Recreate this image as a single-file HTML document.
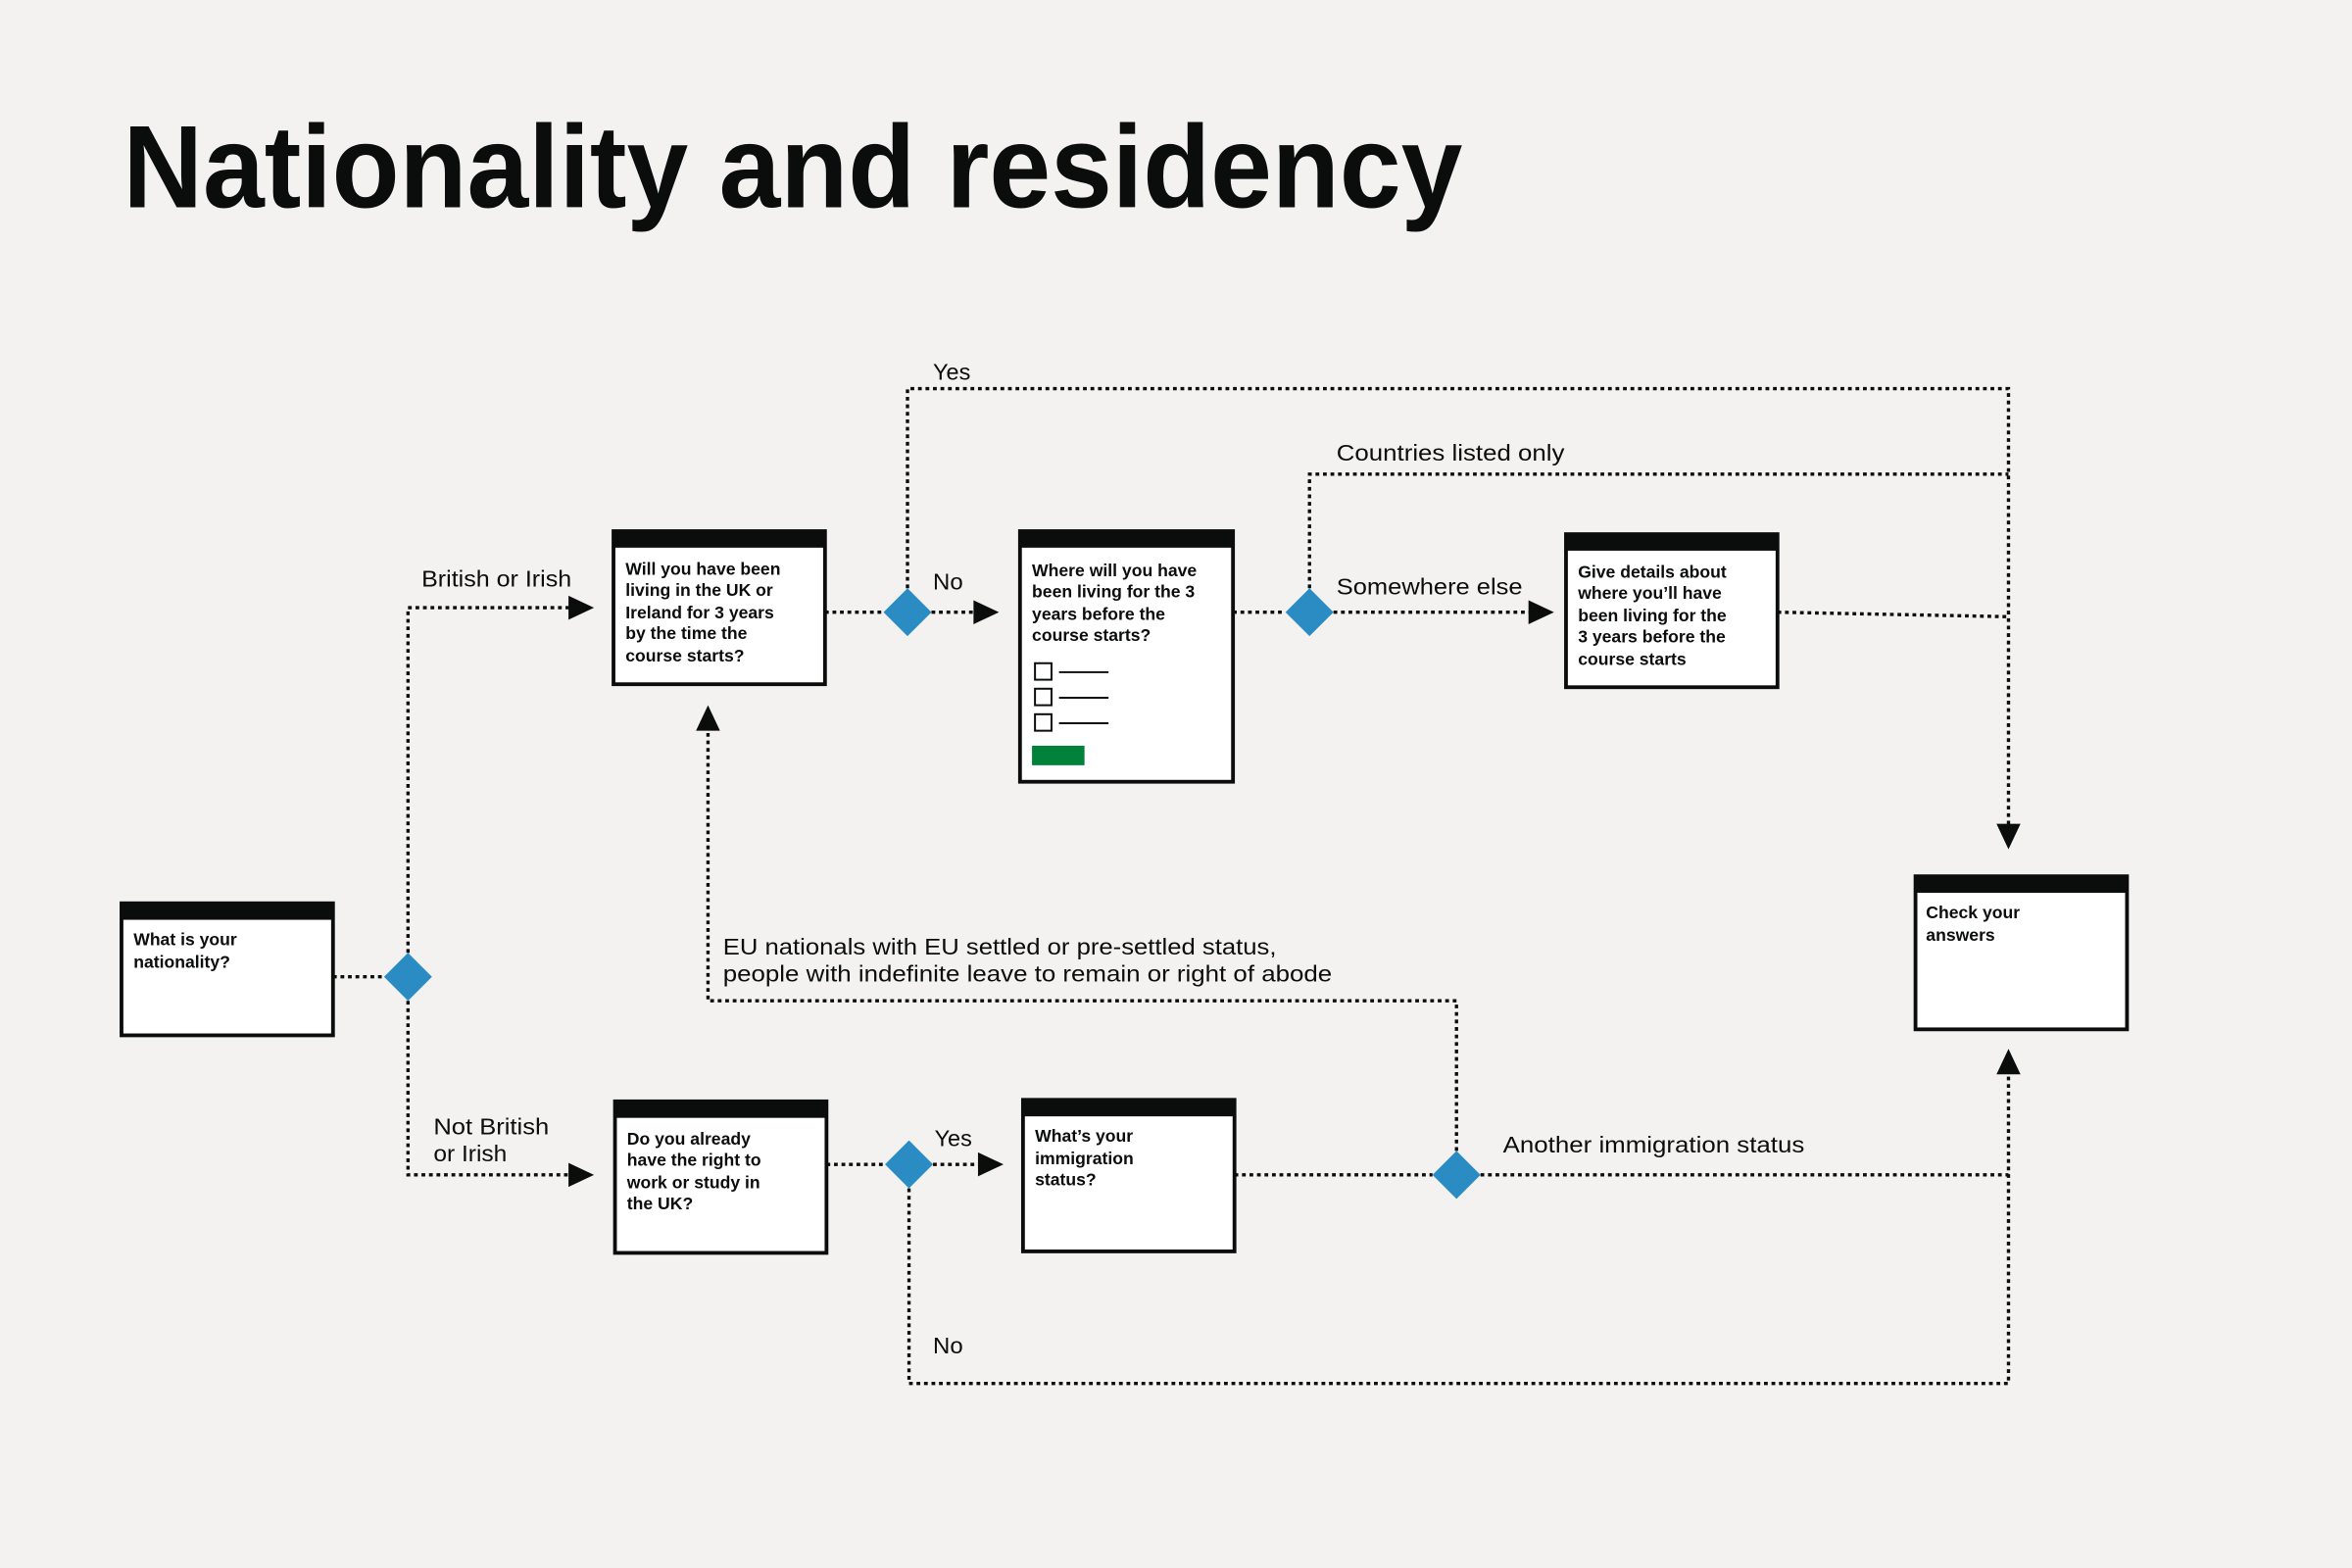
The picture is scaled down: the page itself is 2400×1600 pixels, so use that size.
<!DOCTYPE html>
<html><head><meta charset="utf-8"><style>
html,body{margin:0;padding:0;background:#f3f2f1;}
svg{display:block;}
text{font-family:"Liberation Sans",sans-serif;fill:#0b0c0c;}
.lbl{font-size:15px;}
.bx{font-size:11.5px;font-weight:bold;}
.d{fill:none;stroke:#0b0c0c;stroke-width:2.2;stroke-dasharray:2.5,2.5;}
.box{fill:#fff;stroke:#0b0c0c;stroke-width:2.5;}
.dia{fill:#2b8cc4;}
</style></head><body>
<svg width="2400" height="1600" viewBox="0 0 1568 1045" preserveAspectRatio="none" xmlns="http://www.w3.org/2000/svg">
<rect width="1568" height="1045" fill="#f3f2f1"/>
<text x="82" y="138" font-size="78" font-weight="bold" textLength="893" lengthAdjust="spacingAndGlyphs">Nationality and residency</text>

<path class="d" d="M222 651H256"/>
<path class="d" d="M272 635V405H385"/>
<path class="d" d="M272 667V783H385"/>
<path class="d" d="M550 408H589"/>
<path class="d" d="M621 408H652"/>
<path class="d" d="M605 392V259H1339V552"/>
<path class="d" d="M822 408H857"/>
<path class="d" d="M889 408H1022"/>
<path class="d" d="M873 392V316H1339"/>
<path class="d" d="M1185 408L1339 411"/>
<path class="d" d="M971 767V667H472V486"/>
<path class="d" d="M551 776H590"/>
<path class="d" d="M622 776H655"/>
<path class="d" d="M606 792V922H1339V716"/>
<path class="d" d="M823 783H955"/>
<path class="d" d="M987 783H1339"/>

<g fill="#0b0c0c">
<polygon points="396,405 379,397 379,413"/>
<polygon points="396,783 379,775 379,791"/>
<polygon points="666,408 649,400 649,416"/>
<polygon points="1036,408 1019,400 1019,416"/>
<polygon points="669,776 652,768 652,784"/>
<polygon points="1339,566 1331,549 1347,549"/>
<polygon points="1339,699 1331,716 1347,716"/>
<polygon points="472,470 464,487 480,487"/>
</g>

<g class="dia">
<polygon points="272,635 288,651 272,667 256,651"/>
<polygon points="605,392 621,408 605,424 589,408"/>
<polygon points="873,392 889,408 873,424 857,408"/>
<polygon points="606,760 622,776 606,792 590,776"/>
<polygon points="971,767 987,783 971,799 955,783"/>
</g>

<rect class="box" x="81" y="602" width="141" height="88"/><rect x="80" y="601" width="143" height="12" fill="#0b0c0c"/>
<rect class="box" x="409" y="354" width="141" height="102"/><rect x="408" y="353" width="143" height="12" fill="#0b0c0c"/>
<rect class="box" x="680" y="354" width="142" height="167"/><rect x="679" y="353" width="144" height="12" fill="#0b0c0c"/>
<rect class="box" x="1044" y="356" width="141" height="102"/><rect x="1043" y="355" width="143" height="12" fill="#0b0c0c"/>
<rect class="box" x="1277" y="584" width="141" height="102"/><rect x="1276" y="583" width="143" height="12" fill="#0b0c0c"/>
<rect class="box" x="410" y="734" width="141" height="101"/><rect x="409" y="733" width="143" height="12" fill="#0b0c0c"/>
<rect class="box" x="682" y="733" width="141" height="101"/><rect x="681" y="732" width="143" height="12" fill="#0b0c0c"/>

<g fill="none" stroke="#0b0c0c" stroke-width="1.3">
<rect x="690" y="442" width="11" height="11"/><rect x="690" y="459" width="11" height="11"/><rect x="690" y="476" width="11" height="11"/>
<path d="M706 448H739M706 465H739M706 482H739"/>
</g>
<rect x="688" y="497" width="35" height="13" fill="#00823b"/>

<text class="bx" x="89" y="630">What is your</text>
<text class="bx" x="89" y="645">nationality?</text>

<text class="bx" x="417" y="383">Will you have been</text>
<text class="bx" x="417" y="397">living in the UK or</text>
<text class="bx" x="417" y="412">Ireland for 3 years</text>
<text class="bx" x="417" y="426">by the time the</text>
<text class="bx" x="417" y="441">course starts?</text>

<text class="bx" x="688" y="384">Where will you have</text>
<text class="bx" x="688" y="398">been living for the 3</text>
<text class="bx" x="688" y="413">years before the</text>
<text class="bx" x="688" y="427">course starts?</text>

<text class="bx" x="1052" y="385">Give details about</text>
<text class="bx" x="1052" y="399">where you’ll have</text>
<text class="bx" x="1052" y="414">been living for the</text>
<text class="bx" x="1052" y="428">3 years before the</text>
<text class="bx" x="1052" y="443">course starts</text>

<text class="bx" x="1284" y="612">Check your</text>
<text class="bx" x="1284" y="627">answers</text>

<text class="bx" x="418" y="763">Do you already</text>
<text class="bx" x="418" y="777">have the right to</text>
<text class="bx" x="418" y="792">work or study in</text>
<text class="bx" x="418" y="806">the UK?</text>

<text class="bx" x="690" y="761">What’s your</text>
<text class="bx" x="690" y="776">immigration</text>
<text class="bx" x="690" y="790">status?</text>

<text class="lbl" x="622" y="253" textLength="25" lengthAdjust="spacingAndGlyphs">Yes</text>
<text class="lbl" x="891" y="307" textLength="152" lengthAdjust="spacingAndGlyphs">Countries listed only</text>
<text class="lbl" x="281" y="391" textLength="100" lengthAdjust="spacingAndGlyphs">British or Irish</text>
<text class="lbl" x="622" y="393" textLength="20" lengthAdjust="spacingAndGlyphs">No</text>
<text class="lbl" x="891" y="396" textLength="124" lengthAdjust="spacingAndGlyphs">Somewhere else</text>
<text class="lbl" x="482" y="636" textLength="369" lengthAdjust="spacingAndGlyphs">EU nationals with EU settled or pre-settled status,</text>
<text class="lbl" x="482" y="654" textLength="406" lengthAdjust="spacingAndGlyphs">people with indefinite leave to remain or right of abode</text>
<text class="lbl" x="289" y="756" textLength="77" lengthAdjust="spacingAndGlyphs">Not British</text>
<text class="lbl" x="289" y="774" textLength="49" lengthAdjust="spacingAndGlyphs">or Irish</text>
<text class="lbl" x="623" y="764" textLength="25" lengthAdjust="spacingAndGlyphs">Yes</text>
<text class="lbl" x="1002" y="768" textLength="201" lengthAdjust="spacingAndGlyphs">Another immigration status</text>
<text class="lbl" x="622" y="902" textLength="20" lengthAdjust="spacingAndGlyphs">No</text>
</svg>
</body></html>
